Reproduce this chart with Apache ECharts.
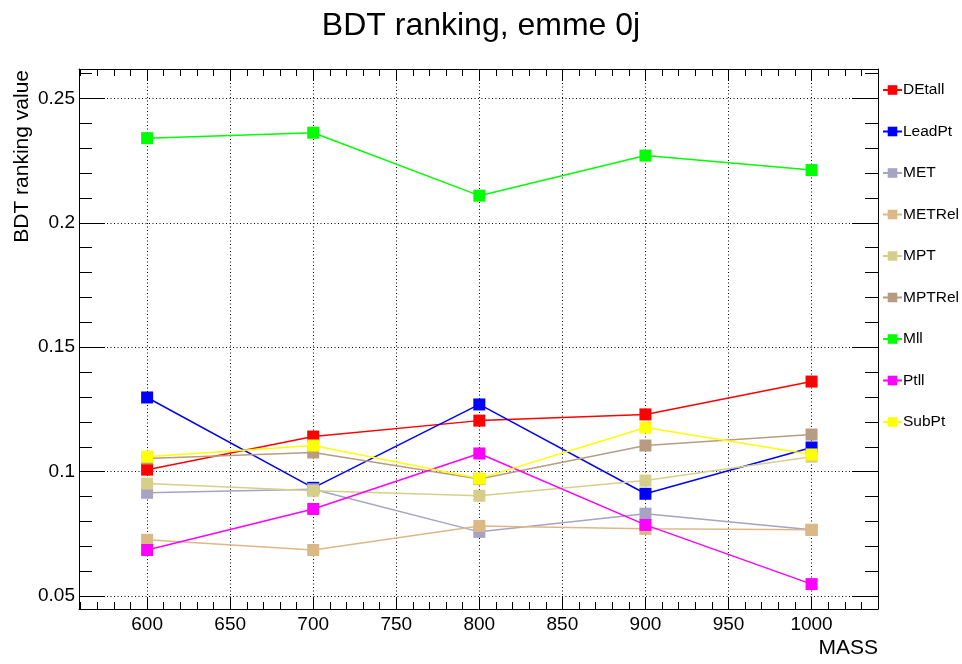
<!DOCTYPE html>
<html>
<head>
<meta charset="utf-8">
<script src="https://cdn.jsdelivr.net/npm/echarts@6/dist/echarts.min.js"></script>
<style>
html,body{margin:0;padding:0;background:#fff;}
#chart{width:962px;height:664px;}
</style>
</head>
<body>
<div id="chart"></div>
<script>
// ---- data ----
var masses = [600, 700, 800, 900, 1000];
var seriesNames = ['DEtall', 'LeadPt', 'MET', 'METRel', 'MPT', 'MPTRel', 'Mll', 'Ptll', 'SubPt'];
var DEtall = [0.1008, 0.1141, 0.1205, 0.1230, 0.1362];
var LeadPt = [0.1298, 0.0935, 0.1270, 0.0911, 0.1097];
var MET    = [0.0915, 0.0929, 0.0758, 0.0831, 0.0766];
var METRel = [0.0726, 0.0685, 0.0782, 0.0770, 0.0766];
var MPT    = [0.0952, 0.0923, 0.0903, 0.0964, 0.1060];
var MPTRel = [0.1053, 0.1077, 0.0970, 0.1105, 0.1149];
var Mll    = [0.2340, 0.2362, 0.2109, 0.2270, 0.2212];
var Ptll   = [0.0685, 0.0850, 0.1073, 0.0786, 0.0548];
var SubPt  = [0.1060, 0.1105, 0.0972, 0.1177, 0.1069];
var seriesValues = [DEtall, LeadPt, MET, METRel, MPT, MPTRel, Mll, Ptll, SubPt];
var seriesColors = ['#ff0000', '#0000ff', '#a7a3c3', '#ddb887', '#d6cf8b', '#b79c83', '#00ff00', '#ff00ff', '#ffff00'];

// ---- axes ----
var xMajorTicks = [600, 650, 700, 750, 800, 850, 900, 950, 1000];
var xMinorStep = 10;
var yMajorTicks = [0.05, 0.10, 0.15, 0.20, 0.25];
var yMinorStep = 0.01;
var X_MIN = 559, X_MAX = 1040;
var Y_MIN = 0.0448, Y_MAX = 0.2618;

function minorTicks(lo, hi, step, majors) {
  var out = [];
  var start = Math.ceil(lo / step - 1e-9);
  var end = Math.floor(hi / step + 1e-9);
  for (var i = start; i <= end; i++) {
    var v = +(i * step).toFixed(6);
    var isMajor = majors.some(function (m) { return Math.abs(m - v) < step / 100; });
    if (!isMajor) out.push(v);
  }
  return out;
}
var xMinorTicks = minorTicks(X_MIN, X_MAX, xMinorStep, xMajorTicks);
var yMinorTicks = minorTicks(Y_MIN, Y_MAX, yMinorStep, yMajorTicks);

var FONT = 'Liberation Sans';
var axisLineStyle = { color: '#000', width: 1 };
var tickLineStyle = { color: '#000', width: 1 };

function xAx(pos, values, len, opts) {
  return Object.assign({
    type: 'value', position: pos, min: X_MIN, max: X_MAX,
    axisLine: { show: false },
    axisTick: { show: true, inside: true, length: len, customValues: values, lineStyle: tickLineStyle },
    axisLabel: { show: false, customValues: values },
    splitLine: { show: false }
  }, opts || {});
}
function yAx(pos, values, len, opts) {
  return Object.assign({
    type: 'value', position: pos, min: Y_MIN, max: Y_MAX,
    axisLine: { show: false },
    axisTick: { show: true, inside: true, length: len, customValues: values, lineStyle: tickLineStyle },
    axisLabel: { show: false, customValues: values },
    splitLine: { show: false }
  }, opts || {});
}

var xAxes = [
  xAx('bottom', xMajorTicks, 12, {
    axisLine: { show: true, onZero: false, lineStyle: axisLineStyle },
    axisLabel: { show: true, customValues: xMajorTicks, margin: 6, color: '#000', fontFamily: FONT, fontSize: 19,
      formatter: function (v) { return String(v); } },
    splitLine: { show: true, lineStyle: { color: '#000', width: 1, type: [1, 2.5] } }
  }),
  xAx('bottom', xMinorTicks, 7),
  xAx('top', xMajorTicks, 12, { axisLine: { show: true, onZero: false, lineStyle: axisLineStyle } }),
  xAx('top', xMinorTicks, 7)
];
var yAxes = [
  yAx('left', yMajorTicks, 26, {
    axisLine: { show: true, onZero: false, lineStyle: axisLineStyle },
    axisLabel: { show: true, customValues: yMajorTicks, margin: 4, color: '#000', fontFamily: FONT, fontSize: 19,
      formatter: function (v) { return String(+v.toFixed(2)); } },
    splitLine: { show: true, lineStyle: { color: '#000', width: 1, type: [1, 2.5] } }
  }),
  yAx('left', yMinorTicks, 13),
  yAx('right', yMajorTicks, 26, { axisLine: { show: true, onZero: false, lineStyle: axisLineStyle } }),
  yAx('right', yMinorTicks, 13)
];

var series = seriesNames.map(function (name, i) {
  return {
    name: name,
    type: 'line',
    xAxisIndex: 0,
    yAxisIndex: 0,
    data: masses.map(function (m, j) { return [m, seriesValues[i][j]]; }),
    symbol: 'rect',
    symbolSize: 12,
    showSymbol: true,
    animation: false,
    color: seriesColors[i],
    lineStyle: { color: seriesColors[i], width: 1.5 },
    itemStyle: { color: seriesColors[i], borderWidth: 0 },
    emphasis: { disabled: true },
    z: 2 + i
  };
});

var chart = echarts.init(document.getElementById('chart'), null, { renderer: 'canvas' });
chart.setOption({
  animation: false,
  backgroundColor: '#ffffff',
  textStyle: { fontFamily: FONT },
  title: {
    text: 'BDT ranking, emme 0j',
    left: 'center',
    top: 5,
    textStyle: { fontFamily: FONT, fontSize: 32, fontWeight: 'normal', color: '#000' }
  },
  grid: { left: 79, right: 84, top: 69, bottom: 55, containLabel: false },
  legend: {
    orient: 'vertical',
    left: 882,
    top: 82,
    padding: 0,
    itemWidth: 19,
    itemHeight: 12,
    itemGap: 25.5,
    data: seriesNames,
    textStyle: { fontFamily: FONT, fontSize: 15.5, lineHeight: 14, color: '#000', padding: [0, 0, 0, -4] },
    selectedMode: false
  },
  xAxis: xAxes,
  yAxis: yAxes,
  graphic: [
    { type: 'text', x: 22, y: 70, rotation: Math.PI / 2,
      style: { text: 'BDT ranking value', align: 'right', verticalAlign: 'middle', fontFamily: FONT, fontSize: 21, fill: '#000' } },
    { type: 'text', x: 878, y: 648,
      style: { text: 'MASS', align: 'right', verticalAlign: 'middle', fontFamily: FONT, fontSize: 21, fill: '#000' } }
  ],
  series: series
});
</script>
</body>
</html>
